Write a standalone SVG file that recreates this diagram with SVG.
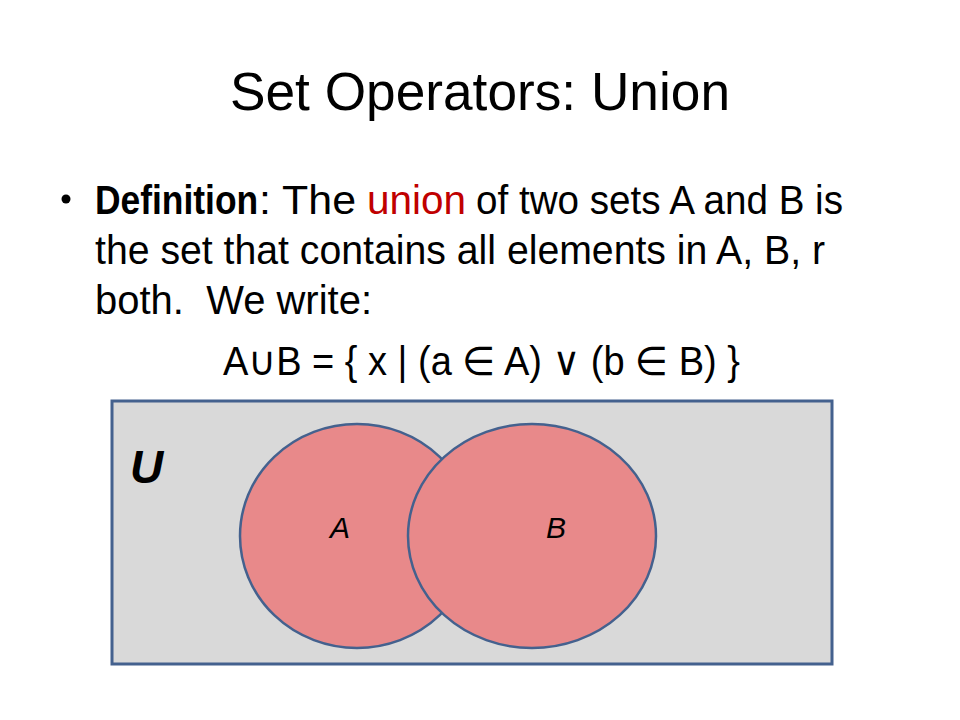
<svg xmlns="http://www.w3.org/2000/svg" width="960" height="720" viewBox="0 0 960 720">
<style>
.t{font-family:"Liberation Sans","DejaVu Sans",sans-serif;fill:#000}
.body{font-size:40px}
.set{fill:#E8898A;stroke:#44618E;stroke-width:2.5}
.lbl{font-family:"Liberation Sans","DejaVu Sans",sans-serif;font-style:italic;font-size:30px;fill:#000}
</style>
<rect width="960" height="720" fill="#fff"/>
<text class="t" x="230" y="110" font-size="54" textLength="500" lengthAdjust="spacingAndGlyphs">Set Operators: Union</text>
<circle cx="66" cy="199" r="4.5" fill="#000"/>
<text class="t body" transform="translate(95,214) scale(0.885,1)" x="0" y="0" font-weight="bold">Definition</text>
<text class="t body" x="259" y="214" textLength="97" lengthAdjust="spacingAndGlyphs">: The</text>
<text class="t body" x="367" y="214" style="fill:#C00000" textLength="99" lengthAdjust="spacingAndGlyphs">union</text>
<text class="t body" x="476" y="214" textLength="367" lengthAdjust="spacingAndGlyphs">of two sets A and B is</text>
<text class="t body" x="95" y="264" textLength="730" lengthAdjust="spacingAndGlyphs">the set that contains all elements in A, B, r</text>
<text class="t body" x="95" y="314" textLength="277" lengthAdjust="spacingAndGlyphs" style="white-space:pre">both.  We write:</text>
<text class="t body" x="223" y="375" textLength="517" lengthAdjust="spacingAndGlyphs" style="white-space:pre">A∪B = { x | (a ∈ A) ∨ (b ∈ B) }</text>
<g id="universe">
<rect x="112" y="401" width="720" height="263" fill="#D9D9D9" stroke="#44618E" stroke-width="3"/>
<text x="130" y="483" font-family="Liberation Sans,DejaVu Sans,sans-serif" font-weight="bold" font-style="italic" font-size="46" fill="#000">U</text>
</g>
<g id="setA">
<ellipse class="set" cx="357" cy="536" rx="117" ry="112"/>
</g>
<g id="setB">
<ellipse class="set" cx="532" cy="536" rx="124" ry="112"/>
</g>
<text class="lbl" x="340" y="538" text-anchor="middle">A</text>
<text class="lbl" x="556" y="538" text-anchor="middle">B</text>
</svg>
